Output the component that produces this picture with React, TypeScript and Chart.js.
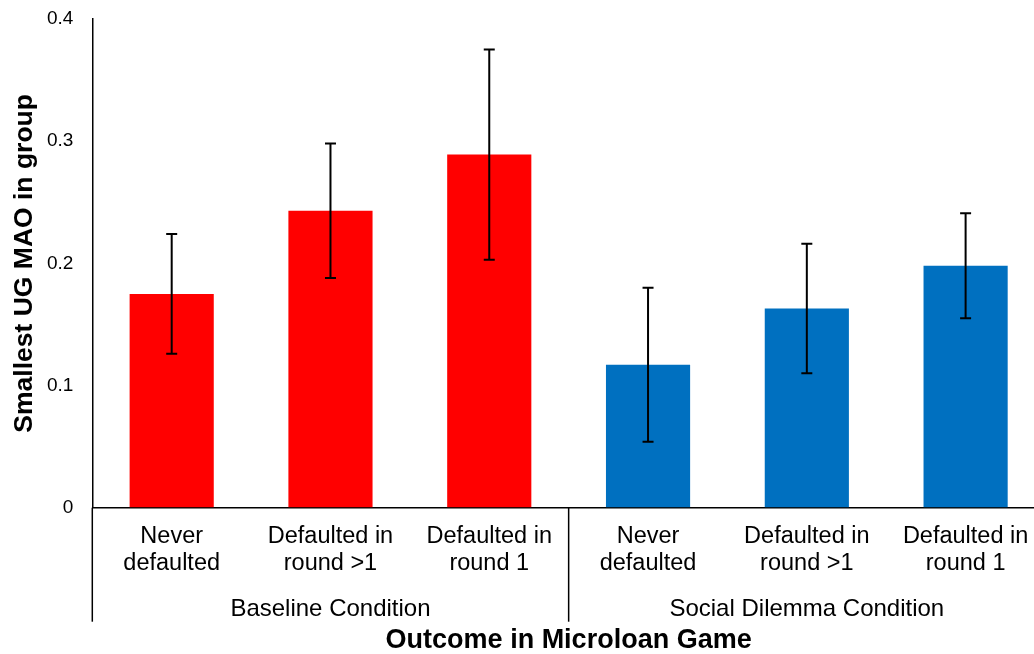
import React, { useEffect, useRef } from "react";
import { Chart, registerables } from "chart.js";

Chart.register(...registerables);

const groups = ["Baseline Condition", "Social Dilemma Condition"];
const outcomes = [
  ["Never", "defaulted"],
  ["Defaulted in", "round >1"],
  ["Defaulted in", "round 1"],
];
const baselineValues = [0.175, 0.243, 0.289];
const baselineErrors = [0.049, 0.055, 0.086];
const socialValues = [0.117, 0.163, 0.198];
const socialErrors = [0.063, 0.053, 0.043];
const yTickValues = [0, 0.1, 0.2, 0.3, 0.4];
const yTickLabels = ["0", "0.1", "0.2", "0.3", "0.4"];
const groupColors = ["#FF0000", "#0070C0"];
const xTitle = "Outcome in Microloan Game";
const yTitle = "Smallest UG MAO in group";

const FONT = '"Liberation Sans", Arial, Helvetica, sans-serif';

export default function App() {
  const canvasRef = useRef<HTMLCanvasElement | null>(null);

  useEffect(() => {
    const canvas = canvasRef.current;
    if (!canvas) return;

    const labels = groups.flatMap(() => outcomes);
    const values = [...baselineValues, ...socialValues];
    const errors = [...baselineErrors, ...socialErrors];
    const colors = groups.flatMap((_, g) => outcomes.map(() => groupColors[g]));
    const n = outcomes.length;

    const errorBarPlugin = {
      id: "errorBars",
      afterDatasetsDraw(chart: any) {
        const { ctx, scales } = chart;
        const y = scales.y;
        const meta = chart.getDatasetMeta(0);
        ctx.save();
        ctx.strokeStyle = "#000";
        ctx.lineWidth = 2;
        meta.data.forEach((bar: any, i: number) => {
          const cx = bar.x;
          const top = y.getPixelForValue(values[i] + errors[i]);
          const bot = y.getPixelForValue(values[i] - errors[i]);
          ctx.beginPath();
          ctx.moveTo(cx, top);
          ctx.lineTo(cx, bot);
          ctx.moveTo(cx - 5.5, top);
          ctx.lineTo(cx + 5.5, top);
          ctx.moveTo(cx - 5.5, bot);
          ctx.lineTo(cx + 5.5, bot);
          ctx.stroke();
        });
        ctx.restore();
      },
    };

    const groupAxisPlugin = {
      id: "groupAxis",
      afterDraw(chart: any) {
        const { ctx, chartArea, scales } = chart;
        const x = scales.x;
        const lineBottom = chartArea.bottom + 114;
        ctx.save();
        ctx.strokeStyle = "#000";
        ctx.lineWidth = 1.5;
        for (let g = 0; g <= groups.length; g++) {
          let px: number;
          if (g === 0) px = chartArea.left;
          else if (g === groups.length) px = chartArea.right;
          else px = (x.getPixelForValue(g * n - 1) + x.getPixelForValue(g * n)) / 2;
          ctx.beginPath();
          ctx.moveTo(px, chartArea.bottom);
          ctx.lineTo(px, lineBottom);
          ctx.stroke();
        }
        ctx.fillStyle = "#000";
        ctx.font = `24px ${FONT}`;
        ctx.textAlign = "center";
        ctx.textBaseline = "alphabetic";
        groups.forEach((name, g) => {
          const cx = (x.getPixelForValue(g * n) + x.getPixelForValue(g * n + n - 1)) / 2;
          ctx.fillText(name, cx, chartArea.bottom + 108);
        });
        ctx.restore();
      },
    };

    const chart = new Chart(canvas, {
      type: "bar",
      data: {
        labels,
        datasets: [
          {
            data: values,
            backgroundColor: colors,
            borderWidth: 0,
            barPercentage: 0.53,
            categoryPercentage: 1,
          },
        ],
      },
      options: {
        animation: false,
        responsive: true,
        maintainAspectRatio: false,
        devicePixelRatio: 1,
        layout: { padding: { left: 0, right: 15, top: 19, bottom: 0 } },
        plugins: {
          legend: { display: false },
          tooltip: { enabled: false },
        },
        scales: {
          x: {
            offset: true,
            grid: { display: false, drawTicks: false },
            border: { display: true, color: "#000", width: 1.5 },
            ticks: {
              color: "#000",
              autoSkip: false,
              maxRotation: 0,
              minRotation: 0,
              padding: 15,
              font: { family: FONT, size: 23.5, lineHeight: "27px" },
            },
            title: {
              display: true,
              text: xTitle,
              color: "#000",
              font: { family: FONT, size: 27, weight: "bold", lineHeight: 1 },
              padding: { top: 0, bottom: 0 },
            },
            afterFit: (scale: any) => {
              scale.height = 146.3;
            },
          },
          y: {
            min: 0,
            max: 0.4,
            grid: {
              display: true,
              drawOnChartArea: false,
              drawTicks: true,
              tickLength: 19,
              tickColor: "rgba(0,0,0,0)",
            },
            border: { display: true, color: "#000", width: 1.5 },
            ticks: {
              stepSize: 0.1,
              color: "#000",
              padding: 0,
              font: { family: FONT, size: 19 },
              callback: (value: any) => {
                const i = yTickValues.findIndex((v) => Math.abs(v - Number(value)) < 1e-9);
                return i >= 0 ? yTickLabels[i] : "";
              },
            },
            title: {
              display: true,
              text: yTitle,
              color: "#000",
              font: { family: FONT, size: 26.5, weight: "bold" },
              padding: { top: 9, bottom: 0 },
            },
            afterFit: (scale: any) => {
              scale.width = 92.3;
            },
          },
        },
      },
      plugins: [errorBarPlugin, groupAxisPlugin],
    });

    return () => chart.destroy();
  }, []);

  return (
    <div
      style={{
        position: "absolute",
        left: 0,
        top: 0,
        width: 1034,
        height: 654,
        overflow: "hidden",
        background: "#fff",
      }}
    >
      <div style={{ position: "relative", width: 1060, height: 654 }}>
        <canvas ref={canvasRef} />
      </div>
    </div>
  );
}
